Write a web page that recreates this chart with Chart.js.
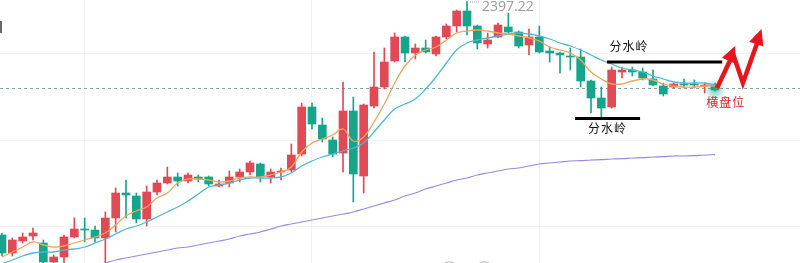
<!DOCTYPE html>
<html><head><meta charset="utf-8">
<script src="https://cdn.jsdelivr.net/npm/chart.js@4.4.1/dist/chart.umd.min.js"></script>
<style>html,body{margin:0;padding:0;background:#fff;overflow:hidden}#wrap{width:800px;height:263px;position:relative}</style>
</head><body><div id="wrap"><canvas id="c"></canvas></div>
<script>
// ---- candle data (index 0..69) ----
const openPrices  = [2280.5,2271.5,2277.5,2280,2276.5,2267,2269.5,2279.5,2283.5,2283,2279,2289,2301.5,2300,2288.5,2302,2306.5,2309.5,2307.5,2309.5,2309.5,2305,2306.5,2309.5,2312,2316,2309.5,2312,2313,2321,2344.5,2335.5,2328,2321.5,2342.5,2310,2345,2354.5,2367.5,2379.5,2371.5,2374,2371,2379.5,2385,2392.5,2385,2376,2379.5,2384.5,2382,2375.5,2379.5,2372.5,2371.5,2370,2369.5,2357.5,2349,2344.5,2362,2363,2362,2358.5,2355,2354.5,2356,2356,2355,2355.5];
const highPrices  = [2281.5,2279,2281.5,2284,2278,2270.5,2280.5,2289,2289,2285,2292,2304,2308,2301.5,2305,2308,2314.5,2311.5,2311.5,2310.5,2310,2308,2312.5,2313.5,2317.5,2316.5,2313.5,2314,2326,2346.5,2346.5,2339,2329.5,2357,2349.5,2346,2372,2374,2381.5,2380,2376,2378,2380,2386,2393,2397.22,2385.5,2381.5,2386.5,2391.5,2382.5,2383.5,2385,2374.5,2372,2374,2373.5,2358,2354.5,2364.5,2364.5,2364.5,2364,2363,2356.5,2356.5,2358.5,2358,2356.5,2356.5];
const lowPrices   = [2270,2270,2276.5,2278,2266.5,2265.5,2265,2279,2277,2277,2262,2282,2289,2286.5,2285,2300.5,2306,2305,2306.5,2307,2305,2304.5,2304.5,2307,2310.5,2307,2306.5,2308,2312,2320,2333.5,2327,2319.5,2312,2297,2301.5,2344,2353.5,2367,2367,2368.5,2371.5,2370,2378.5,2382,2380.5,2373.5,2374,2379,2381.5,2374,2370.5,2371.5,2367,2361.5,2363,2354.5,2341.5,2339,2344,2359,2360,2358,2355,2350,2354,2354,2354,2351.5,2352.5];
const closePrices = [2271.5,2278,2279.5,2281.5,2267,2269.5,2279.5,2283.5,2283,2279,2289,2301.5,2300.5,2288.5,2302,2306.5,2309.5,2307.5,2310.5,2308.5,2306,2306,2309.5,2312,2316.5,2309.5,2312,2312.5,2320.5,2344.5,2336,2328.5,2321,2342.5,2311,2345.5,2354.5,2367,2379.5,2371.5,2374,2372,2379.5,2385,2392.5,2385,2376.5,2378,2385.5,2382,2375,2379.5,2372,2371.5,2370.5,2369.5,2357.5,2349,2344,2363,2363,2362,2359,2355.5,2351,2356,2355.5,2355.5,2355.5,2353];
// ---- moving averages ----
const maShort = [2269.5,2272,2274.5,2277,2275.5,2274.5,2275,2276.5,2278,2279.5,2281.5,2285.5,2290,2292.5,2294.5,2299,2301.5,2306.5,2308.5,2308.5,2308,2307,2307.5,2309,2309.5,2309.5,2310.5,2312,2314.5,2322,2326.5,2328.5,2330.5,2333.5,2327.5,2329.5,2337,2346,2356.5,2365,2370.5,2373,2374.5,2378,2381.5,2382.5,2383,2382.5,2381.5,2381,2380,2379,2377.5,2374.5,2373,2371.5,2368,2362,2358.5,2356,2356,2357.5,2358.5,2358,2356,2355,2354.5,2354.5,2355,2355];
const maMid   = [2266,2268,2270,2271.5,2272,2272,2273,2273.5,2274.5,2276.5,2278.5,2281,2283.5,2285,2287,2289.5,2292,2294.5,2297.5,2301,2304.5,2305.5,2306.5,2308,2309,2309,2309,2309.5,2311.5,2315,2317.5,2319.5,2321,2322.5,2324,2326.5,2332,2338,2343.5,2346,2348.5,2353.5,2359.5,2366.5,2373,2376.5,2378,2379,2380,2381,2381.5,2381,2380,2378.5,2376.5,2375,2373,2370.5,2368,2366,2364,2363,2362,2360,2358.5,2357,2356.5,2356.5,2356.5,2355.5];
const maLong  = [null,null,null,null,null,null,null,null,null,2265.5,2266.5,2268,2269,2270,2271,2272,2273,2274,2274.5,2275.5,2276.5,2277.5,2278.5,2280,2281,2282,2283.5,2285,2286,2287,2288,2289,2290,2291,2292,2293.5,2295,2296.5,2298,2300,2301.5,2303.5,2305,2306.5,2308,2309,2310.5,2311.5,2312.5,2313.5,2314,2315,2316,2316.5,2317,2317.5,2317.7,2318,2318.2,2318.5,2318.7,2319,2319.2,2319.5,2319.7,2320,2320,2320.2,2320.5,2320.7];
// ---- axes / labels ----
const priceGridTicks = [2285, 2328, 2371];
const indexGridTicks = [8, 30, 52];
const highLabel = '2397.22';
const highIndex = 45;
const lastPrice = 2354;
const labelWatershed = '分水岭';
const labelRange = '横盘位';

const UP = '#df4a55', DOWN = '#16a58a';
const candleColors = openPrices.map((o,i)=> closePrices[i] >= o ? UP : DOWN);

const annot = {
  id: 'annot',
  beforeDatasetsDraw(chart){
    const {ctx, scales:{x,y}, chartArea:a} = chart;
    ctx.save();
    const yl = y.getPixelForValue(lastPrice);
    ctx.strokeStyle = '#78aeaa'; ctx.lineWidth = 1; ctx.setLineDash([3,3]);
    ctx.beginPath(); ctx.moveTo(a.left, yl+0.5); ctx.lineTo(a.right, yl+0.5); ctx.stroke();
    ctx.setLineDash([]);
    const gx = x.getPixelForValue(openPrices.length-1), gy = y.getPixelForValue(closePrices[closePrices.length-1]);
    const g = ctx.createRadialGradient(gx,gy,0,gx,gy,11);
    g.addColorStop(0,'rgba(22,165,138,0.55)'); g.addColorStop(1,'rgba(22,165,138,0)');
    ctx.fillStyle = g; ctx.beginPath(); ctx.arc(gx,gy,11,0,Math.PI*2); ctx.fill();
    ctx.restore();
  },
  afterDatasetsDraw(chart){
    const {ctx, scales:{x,y}} = chart;
    const X = v => x.getPixelForValue(v), Y = v => y.getPixelForValue(v);
    ctx.save();
    const hx = X(highIndex), hy = Y(highPrices[highIndex]);
    ctx.fillStyle = '#9a9a9a';
    for (let px = hx+3; px < hx+13; px += 2) ctx.fillRect(px, hy, 1, 1);
    ctx.font = '14px "Open Sans", "DejaVu Sans", sans-serif';
    ctx.textBaseline = 'alphabetic';
    ctx.fillText(highLabel, hx+15, hy+9);
    ctx.strokeStyle = '#000'; ctx.lineWidth = 3; ctx.lineCap = 'butt';
    ctx.beginPath(); ctx.moveTo(X(58.55), Y(2367)); ctx.lineTo(X(69.7), Y(2367)); ctx.stroke();
    ctx.beginPath(); ctx.moveTo(X(55.45), Y(2338.8)); ctx.lineTo(X(61.75), Y(2338.8)); ctx.stroke();
    ctx.fillStyle = '#111';
    ctx.font = '12px "Noto Sans CJK SC", sans-serif';
    ctx.letterSpacing = '1px';
    ctx.fillText(labelWatershed, X(58.8), Y(2372.5));
    ctx.fillText(labelWatershed, X(56.7), Y(2331.5));
    ctx.fillStyle = '#e0202a';
    ctx.fillText(labelRange, X(68.15), Y(2344.5));
    ctx.letterSpacing = '0px';
    const pts = [[69.2,2354],[70.75,2371],[71.7,2356.5],[73.25,2379]].map(p=>[X(p[0]),Y(p[1])]);
    ctx.strokeStyle = '#e8161c'; ctx.fillStyle = '#e8161c'; ctx.lineWidth = 4.5; ctx.lineJoin = 'miter';
    ctx.beginPath(); ctx.moveTo(pts[0][0],pts[0][1]);
    for (let i=1;i<pts.length;i++) ctx.lineTo(pts[i][0],pts[i][1]);
    ctx.stroke();
    const head = (from, tip) => {
      const dx = tip[0]-from[0], dy = tip[1]-from[1], L = Math.hypot(dx,dy), ux = dx/L, uy = dy/L;
      const bx = tip[0]-ux*16, by = tip[1]-uy*16;
      ctx.beginPath(); ctx.moveTo(tip[0],tip[1]);
      ctx.lineTo(bx - uy*7.5, by + ux*7.5); ctx.lineTo(bx + uy*7.5, by - ux*7.5); ctx.closePath(); ctx.fill();
    };
    const tip1 = [X(70.95), Y(2375)], tip2 = [X(73.5), Y(2383.5)];
    head(pts[0], tip1); head(pts[2], tip2);
    ctx.fillStyle = '#6a6a6a'; ctx.fillRect(0, 21, 2, 12);
    ctx.strokeStyle = '#c8c8c8'; ctx.lineWidth = 1.2;
    ctx.beginPath(); ctx.arc(X(43.3), 272, 10, Math.PI*1.1, Math.PI*1.9); ctx.stroke();
    ctx.beginPath(); ctx.arc(X(46.7), 272, 10, Math.PI*1.1, Math.PI*1.9); ctx.stroke();
    ctx.restore();
  }
};

new Chart(document.getElementById('c'), {
  type: 'bar',
  data: {
    datasets: [
      { type:'line', label:'MA short', data: maShort.map((v,i)=>({x:i,y:v})), borderColor:'#f5a25e', borderWidth:1.3, pointRadius:0, tension:0.4, order:0 },
      { type:'line', label:'MA mid', data: maMid.map((v,i)=>({x:i,y:v})), borderColor:'#4fb9d0', borderWidth:1.3, pointRadius:0, tension:0.4, order:0 },
      { type:'line', label:'MA long', data: maLong.map((v,i)=>({x:i,y:v})), borderColor:'#9d87e2', borderWidth:1.2, pointRadius:0, tension:0.4, order:0, spanGaps:false },
      { label:'wick', data: lowPrices.map((l,i)=>({x:i,y:[l,highPrices[i]]})), backgroundColor:candleColors, barThickness:1, grouped:false, order:2 },
      { label:'body', data: openPrices.map((o,i)=>({x:i,y:[o,closePrices[i]]})), backgroundColor:candleColors, barThickness:8, grouped:false, order:1, minBarLength:1 }
    ]
  },
  options: {
    responsive:true, maintainAspectRatio:false, animation:false,
    layout:{padding:0},
    plugins:{legend:{display:false}, tooltip:{enabled:false}},
    scales:{
      x:{ type:'linear', min:-0.1935, max:77.226, offset:false,
          grid:{color:'rgba(0,0,0,0.05)', drawTicks:false, offset:false}, border:{display:false},
          ticks:{display:false}, afterBuildTicks: s => { s.ticks = indexGridTicks.map(v=>({value:v})); } },
      y:{ type:'linear', min:2266.5, max:2398,
          grid:{color:'rgba(0,0,0,0.05)', drawTicks:false}, border:{display:false},
          ticks:{display:false}, afterBuildTicks: s => { s.ticks = priceGridTicks.map(v=>({value:v})); } }
    }
  },
  plugins:[annot]
});
</script>
</body></html>
